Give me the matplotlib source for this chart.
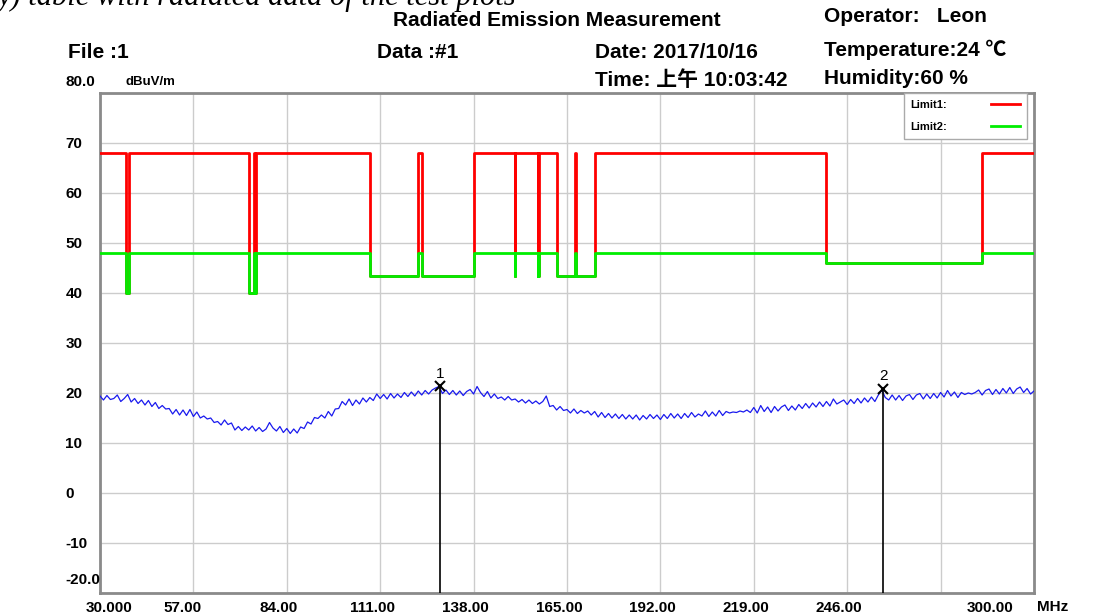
import numpy as np
import matplotlib
matplotlib.use("Agg")
import matplotlib.pyplot as plt
from matplotlib.lines import Line2D
from matplotlib.transforms import ScaledTranslation

W, H = 1096, 616
FONT = ["Liberation Sans", "Noto Sans CJK SC", "DejaVu Sans"]
plt.rcParams["font.family"] = FONT

# measured trace, 1 MHz steps from 30 to 300 MHz (dBuV/m)
freqs = np.arange(30, 301)
levels = [
    19.4, 18.6, 19.5, 18.7, 18.9, 19.6, 18.3, 18.9, 19.7, 18.2,
    18.9, 17.9, 18.6, 17.6, 18.5, 17.3, 18.1, 16.9, 17.5, 16.8,
    16.9, 15.8, 16.7, 15.6, 16.6, 15.5, 16.7, 15.3, 16.2, 15.0,
    15.4, 14.8, 15.0, 14.1, 14.3, 13.6, 14.6, 13.7, 14.0, 12.6,
    13.3, 12.5, 13.2, 12.6, 13.4, 12.4, 13.1, 12.3, 12.8, 14.1,
    13.0, 12.4, 13.3, 12.1, 12.9, 11.9, 12.8, 12.0, 13.2, 12.9,
    14.2, 13.8, 15.1, 14.9, 15.6, 15.0, 16.3, 15.4, 16.8, 16.9,
    18.3, 17.6, 18.8, 17.5, 18.6, 17.8, 19.0, 18.2, 19.1, 18.5,
    19.8, 18.9, 19.7, 18.8, 19.9, 19.0, 19.8, 19.1, 20.1, 19.3,
    20.2, 19.4, 20.4, 19.6, 20.5, 19.8, 20.6, 21.0, 21.3, 19.9,
    20.6, 19.7, 20.5, 19.6, 20.4, 19.5, 20.3, 20.7, 19.8, 21.3,
    20.1, 19.3, 20.3, 19.0, 19.8, 18.9, 19.2, 18.6, 19.3, 18.6,
    18.8, 18.2, 18.7, 18.0, 18.6, 17.9, 18.4, 17.8, 18.3, 19.4,
    17.3, 17.5, 16.6, 17.3, 16.5, 16.7, 16.0, 16.8, 15.9, 16.5,
    16.0, 16.4, 15.6, 16.3, 15.2, 16.1, 15.1, 15.9, 15.0, 15.8,
    14.9, 15.7, 14.8, 15.6, 14.8, 15.6, 14.6, 15.5, 14.8, 15.7,
    14.9, 15.6, 14.7, 15.7, 14.9, 15.9, 15.0, 15.8, 14.9, 15.9,
    15.1, 16.1, 15.2, 15.8, 15.4, 16.4, 15.3, 16.2, 15.4, 16.5,
    15.5, 16.3, 16.0, 16.2, 16.1, 16.4, 16.2, 16.6, 16.1, 17.1,
    16.0, 17.5, 16.3, 17.2, 16.1, 17.3, 16.4, 17.2, 17.6, 16.5,
    17.4, 16.6, 17.7, 16.9, 17.9, 17.0, 18.0, 17.2, 18.2, 17.3,
    18.3, 17.4, 18.8, 17.8, 18.2, 18.6, 17.7, 18.7, 17.9, 18.9,
    18.0, 19.0, 18.2, 19.2, 18.3, 19.6, 20.6, 19.1, 18.6, 19.6,
    18.6, 19.5, 18.5, 19.4, 19.7, 18.7, 19.6, 19.9, 18.8, 19.8,
    18.9, 19.9, 19.0, 20.1, 19.2, 20.5, 19.4, 20.2, 19.1, 20.1,
    19.7, 20.0, 19.8, 20.1, 20.6, 19.6, 20.5, 20.8, 19.7, 20.7,
    19.8, 20.9, 20.0, 21.1, 19.9, 20.8, 21.2, 20.1, 20.9, 19.8,
    20.4,
]

# limits: flat level with restricted-band notches
limit1_level = 68.0
limit2_level = 48.0
band_start = [37.5, 73.0, 74.8, 108.0, 123.0, 149.9, 156.52475, 156.7, 162.0125, 167.72, 240.0]
band_stop = [38.25, 74.6, 75.2, 121.94, 138.0, 150.05, 156.52525, 156.9, 167.17, 173.2, 285.0]
band_limit = [40.0, 40.0, 40.0, 43.5, 43.5, 43.5, 43.5, 43.5, 43.5, 43.5, 46.0]

marker_freq = [128.2, 256.4]
marker_level = [21.4, 20.8]
marker_name = ["1", "2"]

x_ticks = [30, 57, 84, 111, 138, 165, 192, 219, 246, 273, 300]
x_labels = ["30.000", "57.00", "84.00", "111.00", "138.00", "165.00", "192.00",
            "219.00", "246.00", "", "300.00"]
y_ticks = [70, 60, 50, 40, 30, 20, 10, 0, -10]


def limit_path(base):
    xs, ys = [30.0], [base]
    for lo, hi, v in zip(band_start, band_stop, band_limit):
        xs += [lo, lo, hi, hi]
        ys += [base, v, v, base]
    xs.append(300.0)
    ys.append(base)
    return xs, ys


def px_text(x, y, s, **kw):
    kw.setdefault("fontweight", "bold")
    kw.setdefault("va", "center")
    fig.text(x / W, 1 - y / H, s, **kw)


fig = plt.figure(figsize=(W / 100, H / 100), dpi=100)
ax = fig.add_axes([100 / W, (H - 593) / H, 934 / W, 500 / H])

ax.set_xlim(30, 300)
ax.set_ylim(-20, 80)
ax.set_xticks(x_ticks)
ax.set_xticklabels(x_labels, fontsize=11, fontweight="bold")
ax.set_yticks(y_ticks)
ax.set_yticklabels([str(v) for v in y_ticks], fontsize=11, fontweight="bold")
ax.set_yticks(np.arange(-20, 81, 10), minor=True)
ax.grid(True, which="both", color="#cccccc", lw=1.0)
ax.tick_params(which="both", length=0)
ax.tick_params(axis="y", pad=25)
ax.tick_params(axis="x", pad=6)
for lab in ax.get_yticklabels():
    lab.set_ha("left")

# x labels sit a bit left of their grid lines in the original
shift = {0: 9, 1: -11, len(x_labels) - 1: -44}
for i, lab in enumerate(ax.get_xticklabels()):
    dx = shift.get(i, -8)
    lab.set_transform(lab.get_transform() + ScaledTranslation(dx / 100, 0, fig.dpi_scale_trans))

for sp in ax.spines.values():
    sp.set_color("#8a8a8a")
    sp.set_linewidth(2.0)

# limit lines (green on top so red notches disappear underneath)
rx, ry = limit_path(limit1_level)
gx, gy = limit_path(limit2_level)
ax.plot(rx, ry, color="#ff0000", lw=2.0, zorder=3)
ax.plot(gx, gy, color="#00ee00", lw=2.0, zorder=4)

ax.plot(freqs, levels, color="#1a1aee", lw=0.9, zorder=5)

for f, lv, name in zip(marker_freq, marker_level, marker_name):
    ax.vlines(f, -20, lv, color="black", lw=1.2, zorder=6)
    ax.plot(f, lv, marker="x", ms=7, mew=1.5, color="black", zorder=7)
    ax.annotate(name, (f, lv), xytext=(0, 9), textcoords="offset points",
                ha="center", va="center", fontsize=11)

leg = ax.legend(
    handles=[Line2D([], [], color="#ff0000", lw=2.0), Line2D([], [], color="#00ee00", lw=2.0)],
    labels=["Limit1:", "Limit2:"],
    markerfirst=False, loc="upper right", bbox_to_anchor=(0.9925, 1.0),
    borderaxespad=0, fancybox=False, framealpha=1, edgecolor="#aaaaaa",
    prop={"weight": "bold", "size": 8}, handlelength=2.6, handletextpad=4.0,
    labelspacing=1.1, borderpad=0.6,
)
leg.get_frame().set_linewidth(1.0)
leg.set_zorder(10)

# header texts
fig.text(-2 / W, 1 - 5 / H, "y) table with radiated data of the test plots",
         family="Liberation Serif", style="italic", fontsize=22, va="baseline")
px_text(393, 20, "Radiated Emission Measurement", fontsize=15)
px_text(824, 17, "Operator:   Leon", fontsize=15)
px_text(68, 53, "File :1", fontsize=15)
px_text(377, 53, "Data :#1", fontsize=15)
px_text(595, 53, "Date: 2017/10/16", fontsize=15)
px_text(824, 50, "Temperature:24 \u2103", fontsize=15)
px_text(595, 80, "Time: 上午 10:03:42", fontsize=15)
px_text(824, 78, "Humidity:60 %", fontsize=15)
px_text(65, 82, "80.0", fontsize=11)
px_text(126, 82, "dBuV/m", fontsize=9.5)
px_text(65, 580, "-20.0", fontsize=11)
px_text(1037, 607, "MHz", fontsize=11)

fig.savefig("out.png", dpi=100)
